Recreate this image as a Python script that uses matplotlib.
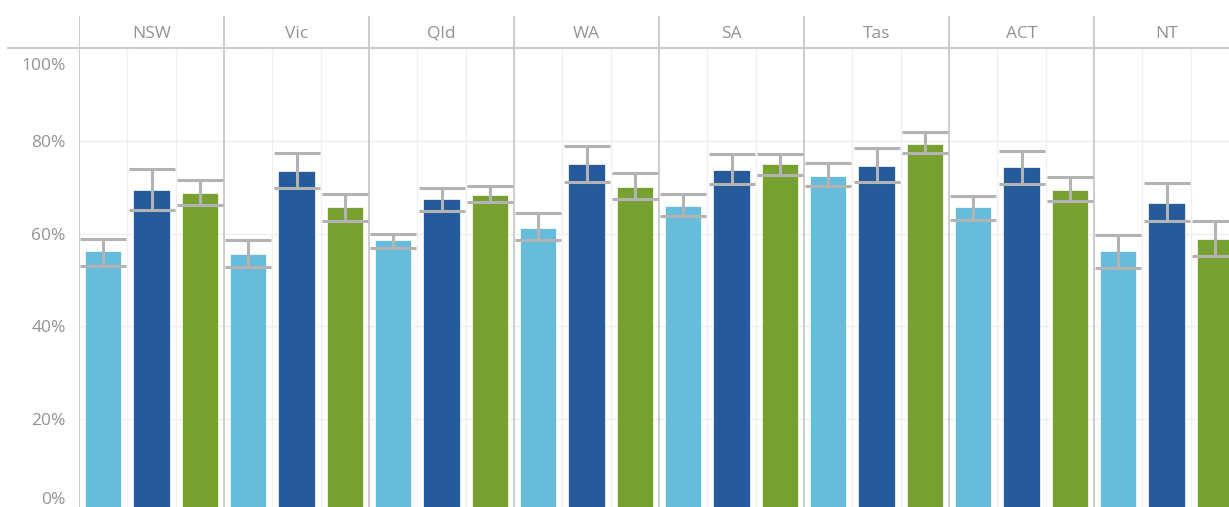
import numpy as np
import matplotlib.pyplot as plt
from matplotlib.transforms import ScaledTranslation

plt.rcParams['font.family'] = ['Open Sans', 'DejaVu Sans']

# Data (percent)
states = ['NSW', 'Vic', 'Qld', 'WA', 'SA', 'Tas', 'ACT', 'NT']
series_colors = ['#67bcdb', '#265a9a', '#78a030']

values = [
    [56.2, 69.5, 68.7],
    [55.5, 73.5, 65.7],
    [58.6, 67.4, 68.4],
    [61.2, 74.9, 70.1],
    [66.0, 73.8, 74.9],
    [72.5, 74.6, 79.4],
    [65.7, 74.3, 69.4],
    [56.2, 66.7, 58.9],
]
upper = [
    [58.9, 74.0, 71.5],
    [58.6, 77.4, 68.5],
    [60.0, 69.9, 70.3],
    [64.4, 78.8, 73.0],
    [68.5, 77.1, 77.1],
    [75.3, 78.5, 81.9],
    [68.2, 77.7, 72.3],
    [59.6, 70.9, 62.7],
]
lower = [
    [53.1, 65.1, 66.2],
    [52.8, 69.9, 62.7],
    [57.0, 64.8, 66.8],
    [58.6, 71.2, 67.5],
    [63.7, 70.6, 72.7],
    [70.3, 71.2, 77.4],
    [63.0, 70.6, 67.1],
    [52.5, 62.7, 55.2],
]
yticks = [0, 20, 40, 60, 80, 100]

W, H = 1229, 507
fig = plt.figure(figsize=(W / 100, H / 100), dpi=100)

# axes in pixel terms: x 79..1239, y 48..512 (from top)
left, right, top, bottom = 79, 1239, 48, 512
ax = fig.add_axes([left / W, (H - bottom) / H, (right - left) / W, (bottom - top) / H])

vals = np.array(values)
up = np.array(upper)
lo = np.array(lower)
n_states, n_ser = vals.shape
grey_err = '#b3b3b3'
txt_col = '#939393'

for j in range(n_ser):
    x = np.arange(n_states) * n_ser + j + 0.5
    ax.bar(x, vals[:, j], width=0.75, color=series_colors[j],
           edgecolor='white', linewidth=0.5, zorder=2)
    yerr = np.vstack([vals[:, j] - lo[:, j], up[:, j] - vals[:, j]])
    ax.errorbar(x, vals[:, j], yerr=yerr, fmt='none', ecolor=grey_err,
                elinewidth=2.2, capsize=16.5, capthick=2.2, zorder=3)

ax.set_xlim(0, n_states * n_ser)
ax.set_ylim(0, 100)

# gridlines
for t in yticks[1:-1]:
    ax.axhline(t, color='#efefef', lw=1, zorder=0)
for k in range(n_states):
    for j in (1, 2):
        ax.axvline(k * n_ser + j, color='#f0f0f0', lw=1, zorder=0)
for k in range(n_states + 1):
    ax.axvline(k * n_ser, color='#c8c8c8', lw=1.3, zorder=1)

for s in ax.spines.values():
    s.set_visible(False)
ax.set_xticks([])
ax.set_yticks(yticks)
ax.set_yticklabels([f'{t}%' for t in yticks])
ax.tick_params(axis='y', length=0, pad=9.5, labelsize=12.5, labelcolor=txt_col)
labs = ax.get_yticklabels()
labs[0].set_transform(labs[0].get_transform() + ScaledTranslation(0, 14 / 100, fig.dpi_scale_trans))
labs[-1].set_transform(labs[-1].get_transform() + ScaledTranslation(0, -16 / 100, fig.dpi_scale_trans))

# header row
hdr = fig.add_axes([left / W, (H - top) / H, (right - left) / W, (top - 16) / H])
hdr.set_xlim(0, n_states * n_ser)
hdr.set_ylim(0, 1)
hdr.axis('off')
for k in range(n_states + 1):
    hdr.axvline(k * n_ser, color='#c8c8c8', lw=1.3)
for k, st in enumerate(states):
    hdr.text(k * n_ser + n_ser / 2, 0.44, st, ha='center', va='center',
             fontsize=12.5, color=txt_col)
fig.add_artist(plt.Line2D([8 / W, 1], [(H - top) / H] * 2, color='#c8c8c8', lw=1.3))

fig.savefig('out.png', dpi=100)
